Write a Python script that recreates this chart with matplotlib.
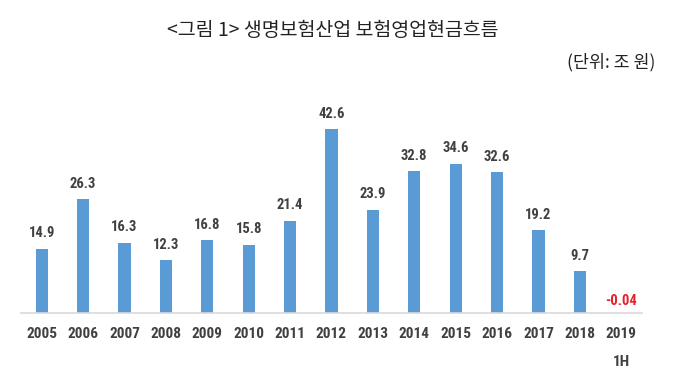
import matplotlib
matplotlib.use("Agg")
import matplotlib.pyplot as plt
import logging
logging.getLogger("matplotlib.font_manager").setLevel(logging.ERROR)

years = ["2005", "2006", "2007", "2008", "2009", "2010", "2011", "2012",
         "2013", "2014", "2015", "2016", "2017", "2018", "2019"]
values = [14.9, 26.3, 16.3, 12.3, 16.8, 15.8, 21.4, 42.6,
          23.9, 32.8, 34.6, 32.6, 19.2, 9.7, -0.04]
labels = ["14.9", "26.3", "16.3", "12.3", "16.8", "15.8", "21.4", "42.6",
          "23.9", "32.8", "34.6", "32.6", "19.2", "9.7", "-0.04"]
title = "<그림 1> 생명보험산업 보험영업현금흐름"
unit = "(단위: 조 원)"
sub_label = "1H"

num_font = ["Roboto Condensed", "Liberation Sans Narrow", "Roboto", "DejaVu Sans"]
kr = ["Noto Sans CJK KR", "DejaVu Sans"]
num_col = "#404040"

fig = plt.figure(figsize=(6.8, 3.76), dpi=100)
ax = fig.add_axes([21 / 680, 1 - 313 / 376, (642 - 21) / 680, (313 - 100) / 376])

x = list(range(len(years)))
bar_vals = [max(v, 0) for v in values]
ax.bar(x, bar_vals, width=0.29, color="#5B9BD5", zorder=2)
ax.set_xlim(-0.5, len(years) - 0.5)
ax.set_ylim(0, 49.3)

for xi, v, lab in zip(x, values, labels):
    if v < 0:
        ax.annotate(lab, (xi, 0), xytext=(0, 3.5), textcoords="offset points",
                    ha="center", va="bottom", color="#E8202A",
                    fontsize=10.5, fontweight="bold", family=num_font)
    else:
        ax.annotate(lab, (xi, v), xytext=(0, 6), textcoords="offset points",
                    ha="center", va="bottom", color=num_col,
                    fontsize=10.5, fontweight="bold", family=num_font)

for s in ["top", "right", "left"]:
    ax.spines[s].set_visible(False)
ax.spines["bottom"].set_color("#D9D9D9")
ax.spines["bottom"].set_linewidth(1.2)
ax.set_yticks([])
ax.set_xticks(x)
ax.set_xticklabels(years, fontsize=11, fontweight="bold", color=num_col, family=num_font)
ax.tick_params(axis="x", length=0, pad=10)

fig.text(621 / 680, 1 - 362 / 376, sub_label, ha="center", va="center",
         fontsize=11, fontweight="bold", color=num_col, family=num_font)
fig.text(333 / 680, 1 - 31 / 376, title, ha="center", va="center",
         fontsize=14, color="#222222", family=kr)
fig.text(611 / 680, 1 - 62 / 376, unit, ha="center", va="center",
         fontsize=12.5, color="#222222", family=kr)

fig.savefig("out.png", dpi=100, facecolor="white")
